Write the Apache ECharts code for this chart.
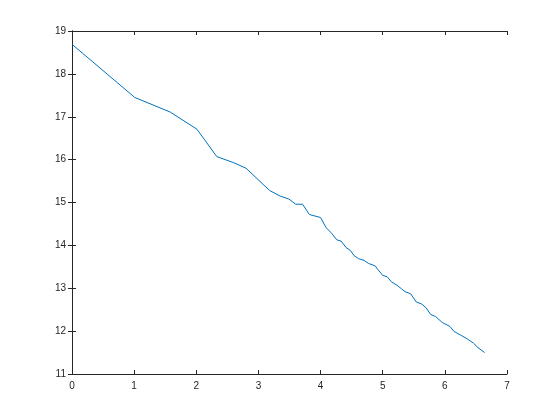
<!DOCTYPE html>
<html>
<head>
<meta charset="utf-8">
<script src="https://cdn.jsdelivr.net/npm/echarts@6/dist/echarts.min.js"></script>
<style>
  html, body { margin: 0; padding: 0; background: #fff; }
  #chart { width: 560px; height: 420px; }
</style>
</head>
<body>
<div id="chart"></div>
<script>
// x values along the curve
const xVals = [0, 1.01, 1.58, 2.01, 2.33, 2.60, 2.80, 3.18, 3.35, 3.49, 3.60, 3.71, 3.82, 4.00,
  4.09, 4.18, 4.26, 4.33, 4.41, 4.48, 4.54, 4.61, 4.70, 4.77, 4.88, 4.92, 5.00, 5.07, 5.14,
  5.23, 5.30, 5.36, 5.45, 5.54, 5.63, 5.70, 5.77, 5.85, 5.96, 6.08, 6.15, 6.25, 6.36, 6.46,
  6.53, 6.64];
// y values
const yVals = [18.69, 17.45, 17.11, 16.71, 16.07, 15.93, 15.80, 15.28, 15.15, 15.08, 14.96, 14.96, 14.72, 14.65,
  14.41, 14.28, 14.13, 14.10, 13.95, 13.88, 13.76, 13.69, 13.65, 13.58, 13.52, 13.44, 13.30, 13.27, 13.15,
  13.07, 12.99, 12.92, 12.87, 12.68, 12.63, 12.54, 12.39, 12.34, 12.20, 12.11, 11.99, 11.91, 11.82, 11.72,
  11.62, 11.50];

const points = xVals.map((x, i) => [x, yVals[i]]);

const axisLine = { lineStyle: { color: "#262626", width: 1 } };
const labelStyle = { color: "#262626", fontSize: 10, fontFamily: "Liberation Sans, Arial, sans-serif" };

const option = {
  animation: false,
  backgroundColor: "#fff",
  grid: { left: 72, right: 53, top: 31, bottom: 46 },
  xAxis: [
    {
      type: "value", min: 0, max: 7, interval: 1,
      axisLine: axisLine,
      axisTick: { inside: true, length: 4, lineStyle: { color: "#262626" } },
      axisLabel: Object.assign({ margin: 7 }, labelStyle),
      splitLine: { show: false },
    },
    {
      type: "value", position: "top", min: 0, max: 7, interval: 1,
      axisLine: axisLine,
      axisTick: { inside: true, length: 4, lineStyle: { color: "#262626" } },
      axisLabel: { show: false },
      splitLine: { show: false },
    },
  ],
  yAxis: [
    {
      type: "value", min: 11, max: 19, interval: 1,
      axisLine: Object.assign({ show: true }, axisLine),
      axisTick: { show: true, inside: true, length: 4, lineStyle: { color: "#262626" } },
      axisLabel: Object.assign({ margin: 6 }, labelStyle),
      splitLine: { show: false },
    },
    {
      type: "value", position: "right", min: 11, max: 19, interval: 1,
      axisLine: Object.assign({ show: true }, axisLine),
      axisTick: { show: true, inside: true, length: 4, lineStyle: { color: "#262626" } },
      axisLabel: { show: false },
      splitLine: { show: false },
    },
  ],
  series: [
    {
      type: "line",
      data: points,
      showSymbol: false,
      lineStyle: { color: "#0072bd", width: 1 },
    },
  ],
};

echarts.init(document.getElementById("chart")).setOption(option);
</script>
</body>
</html>
